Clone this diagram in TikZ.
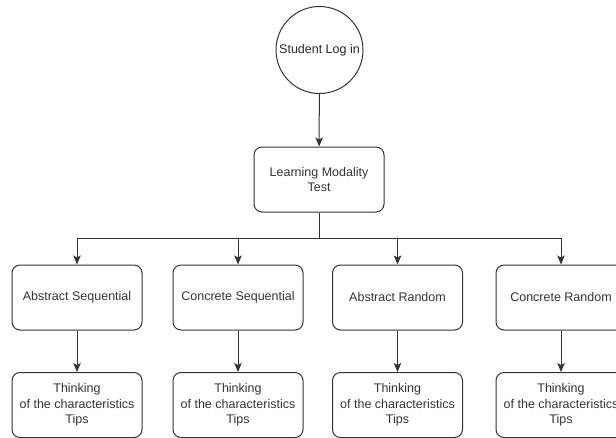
\documentclass[tikz,border=0pt]{standalone}
\usepackage{fontspec}
\setmainfont{Liberation Sans}
\usetikzlibrary{arrows.meta}

\begin{document}
\begin{tikzpicture}[x=1pt, y=-1pt, line width=1pt, draw=black!80,
		font=\fontsize{12.5}{15.7}\selectfont,
		start/.style = {draw, circle, inner sep=0pt, minimum size=87pt, text=black!85},
		box/.style = {draw, rounded corners=8pt, minimum width=130pt, minimum height=65pt, align=center, text=black!80},
		arr/.style = {-{Stealth[length=9pt, width=7.5pt, inset=2pt]}}]
				\useasboundingbox (0,0) rectangle (616,437);
				\node[start] (login) at (319.5,50) {Student Log in};
				\node[box] (lmt) at (319,179.5) {Learning Modality\\Test};
				\node[box] (as) at (77,297.5) {Abstract Sequential};
				\node[box] (cs) at (238,297.5) {Concrete Sequential};
				\node[box] (ar) at (397.5,297.5) {Abstract Random};
				\node[box] (cr) at (561,297.5) {Concrete Random};
				\node[box] (tas) at (77,405) {Thinking\\of the characteristics\\Tips};
				\node[box] (tcs) at (238,405) {Thinking\\of the characteristics\\Tips};
				\node[box] (tar) at (397.5,405) {Thinking\\of the characteristics\\Tips};
				\node[box] (tcr) at (561,405) {Thinking\\of the characteristics\\Tips};
				\coordinate (split) at (319,238);
				\draw[arr] (login) -- (lmt);
				\draw (lmt) -- (split);
				\draw[arr] (split) -| (as);
				\draw[arr] (split) -| (cs);
				\draw[arr] (split) -| (ar);
				\draw[arr] (split) -| (cr);
				\draw[arr] (as) -- (tas);
				\draw[arr] (cs) -- (tcs);
				\draw[arr] (ar) -- (tar);
				\draw[arr] (cr) -- (tcr);
			\end{tikzpicture}
\end{document}
